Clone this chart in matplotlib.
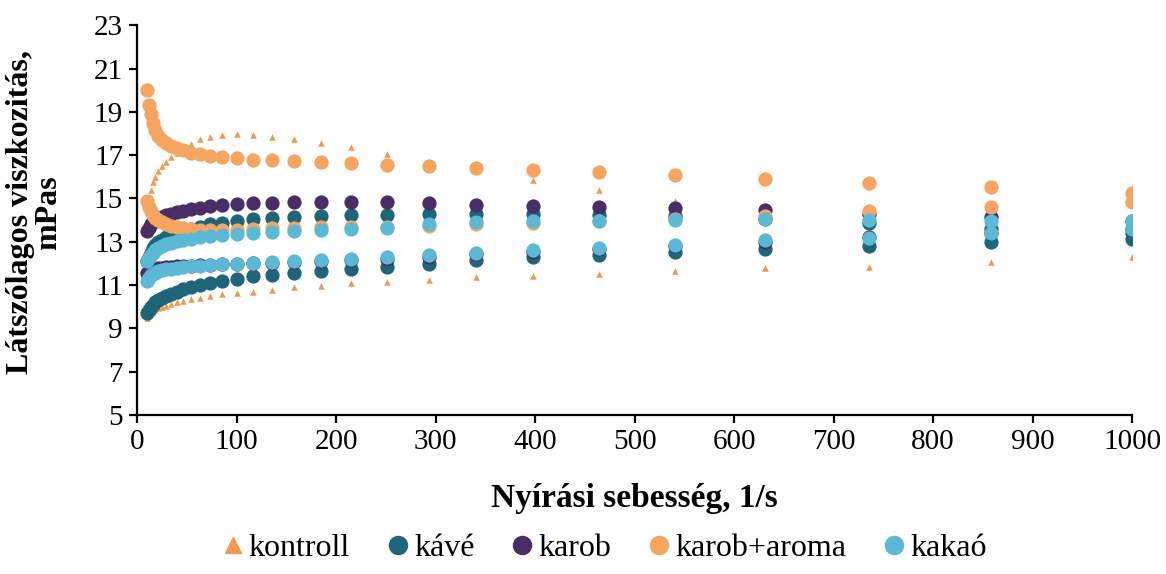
import matplotlib
matplotlib.use("Agg")
import matplotlib.pyplot as plt
from matplotlib.lines import Line2D

plt.rcParams['font.family'] = ['Liberation Serif', 'DejaVu Serif']

# shear rate points, 1/s
shear = [10, 11.7, 13.6, 15.8, 18.5, 21.5, 25.1, 29.3, 34.1, 39.8, 46.4, 54.1,
         63.1, 73.6, 85.8, 100, 117, 136, 158, 185, 215, 251, 293, 341, 398,
         464, 541, 631, 736, 858, 1000]

# apparent viscosity, mPas (upper and lower branch of each loop)
kontroll_a = [14.6, 15.0, 15.4, 15.75, 16.0, 16.25, 16.5, 16.7, 16.9, 17.1, 17.3, 17.5,
              17.75, 17.85, 17.92, 17.97, 17.92, 17.83, 17.74, 17.55, 17.37, 17.05, 16.7,
              16.3, 15.85, 15.4, 14.9, 14.5, 14.1, 13.7, 13.3]
kontroll_b = [9.5, 9.6, 9.7, 9.78, 9.85, 9.92, 9.98, 10.05, 10.12, 10.2, 10.27, 10.35,
              10.42, 10.5, 10.57, 10.63, 10.69, 10.77, 10.92, 10.97, 11.08, 11.13, 11.23,
              11.38, 11.42, 11.5, 11.66, 11.77, 11.85, 12.08, 12.3]

kave_a = [12.1, 12.3, 12.5, 12.7, 12.85, 13.0, 13.1, 13.2, 13.3, 13.4, 13.5, 13.6,
          13.7, 13.8, 13.88, 13.95, 14.05, 14.1, 14.15, 14.2, 14.22, 14.25, 14.28,
          14.3, 14.28, 14.25, 14.2, 14.05, 13.85, 13.6, 13.4]
kave_b = [9.7, 9.85, 9.98, 10.1, 10.2, 10.3, 10.4, 10.5, 10.6, 10.7, 10.8, 10.9,
          11.0, 11.1, 11.2, 11.3, 11.4, 11.48, 11.58, 11.66, 11.75, 11.85, 11.98,
          12.15, 12.28, 12.38, 12.52, 12.68, 12.8, 13.0, 13.15]

karob_a = [13.5, 13.65, 13.8, 13.9, 14.0, 14.08, 14.15, 14.22, 14.3, 14.37, 14.43, 14.5,
           14.57, 14.63, 14.68, 14.73, 14.78, 14.8, 14.82, 14.83, 14.83, 14.82, 14.8,
           14.72, 14.66, 14.6, 14.54, 14.45, 14.3, 14.15, 13.95]
karob_b = [11.55, 11.62, 11.68, 11.72, 11.76, 11.78, 11.8, 11.82, 11.84, 11.86, 11.88, 11.9,
           11.92, 11.94, 11.96, 11.98, 12.0, 12.03, 12.06, 12.1, 12.14, 12.2, 12.28,
           12.45, 12.55, 12.65, 12.8, 13.0, 13.2, 13.4, 13.6]

aroma_a = [20.0, 19.3, 18.9, 18.5, 18.15, 17.9, 17.7, 17.55, 17.42, 17.32, 17.22, 17.12,
           17.05, 16.98, 16.92, 16.87, 16.8, 16.76, 16.72, 16.67, 16.62, 16.56, 16.48,
           16.42, 16.3, 16.2, 16.08, 15.88, 15.72, 15.54, 15.23]
aroma_b = [14.9, 14.6, 14.4, 14.25, 14.1, 14.0, 13.9, 13.8, 13.72, 13.66, 13.62, 13.58,
           13.56, 13.55, 13.55, 13.56, 13.6, 13.62, 13.64, 13.66, 13.68, 13.7, 13.75,
           13.8, 13.88, 13.95, 14.05, 14.2, 14.4, 14.6, 14.85]

kakao_a = [12.1, 12.25, 12.38, 12.5, 12.6, 12.7, 12.8, 12.88, 12.95, 13.02, 13.08, 13.14,
           13.2, 13.25, 13.3, 13.35, 13.4, 13.45, 13.5, 13.55, 13.6, 13.65, 13.8,
           13.9, 13.95, 13.95, 14.0, 14.05, 14.0, 13.95, 13.95]
kakao_b = [11.2, 11.35, 11.45, 11.52, 11.58, 11.63, 11.68, 11.72, 11.76, 11.8, 11.84, 11.87,
           11.9, 11.93, 11.96, 11.99, 12.02, 12.05, 12.1, 12.15, 12.2, 12.28, 12.38,
           12.5, 12.6, 12.7, 12.85, 13.08, 13.16, 13.4, 13.6]

labels = ['kontroll', 'kávé', 'karob', 'karob+aroma', 'kakaó']
colors = ['#F09A4F', '#1F6579', '#4A2D66', '#F5A55F', '#5BB9D6']

fig = plt.figure(figsize=(11.66, 5.74), dpi=100)
ax = fig.add_axes([0.1175, 0.277, 0.8535, 0.679])

ax.scatter(shear + shear, kontroll_a + kontroll_b, marker='^', s=22, color=colors[0], linewidths=0)
ax.scatter(shear + shear, kave_a + kave_b, marker='o', s=105, color=colors[1], linewidths=0)
ax.scatter(shear + shear, karob_a + karob_b, marker='o', s=105, color=colors[2], linewidths=0)
ax.scatter(shear + shear, aroma_a + aroma_b, marker='o', s=105, color=colors[3], linewidths=0)
ax.scatter(shear + shear, kakao_a + kakao_b, marker='o', s=105, color=colors[4], linewidths=0)

ax.set_xlim(0, 1000)
ax.set_ylim(5, 23)
ax.set_xticks(range(0, 1001, 100))
ax.set_yticks(range(5, 24, 2))
for s in ['top', 'right']:
    ax.spines[s].set_visible(False)
for s in ['left', 'bottom']:
    ax.spines[s].set_linewidth(1.6)
ax.tick_params(direction='out', length=6, width=1.6, labelsize=21, pad=4)

ax.set_xlabel('Nyírási sebesség, 1/s', fontsize=24, fontweight='bold')
ax.xaxis.set_label_coords(0.5, -0.175)
ax.set_ylabel('Látszólagos viszkozitás,\nmPas', fontsize=23, fontweight='bold',
              linespacing=0.95)
ax.yaxis.set_label_coords(-0.074, 0.52)

handles = [Line2D([], [], linestyle='none', marker='^', markersize=12, color=colors[0])]
handles += [Line2D([], [], linestyle='none', marker='o', markersize=13, color=c) for c in colors[1:]]
fig.legend(handles, labels, loc='center', bbox_to_anchor=(0.516, 0.045), ncol=5,
           frameon=False, fontsize=23, handletextpad=0.0, columnspacing=1.0,
           handlelength=1.0)

fig.savefig('out.png', dpi=100)
